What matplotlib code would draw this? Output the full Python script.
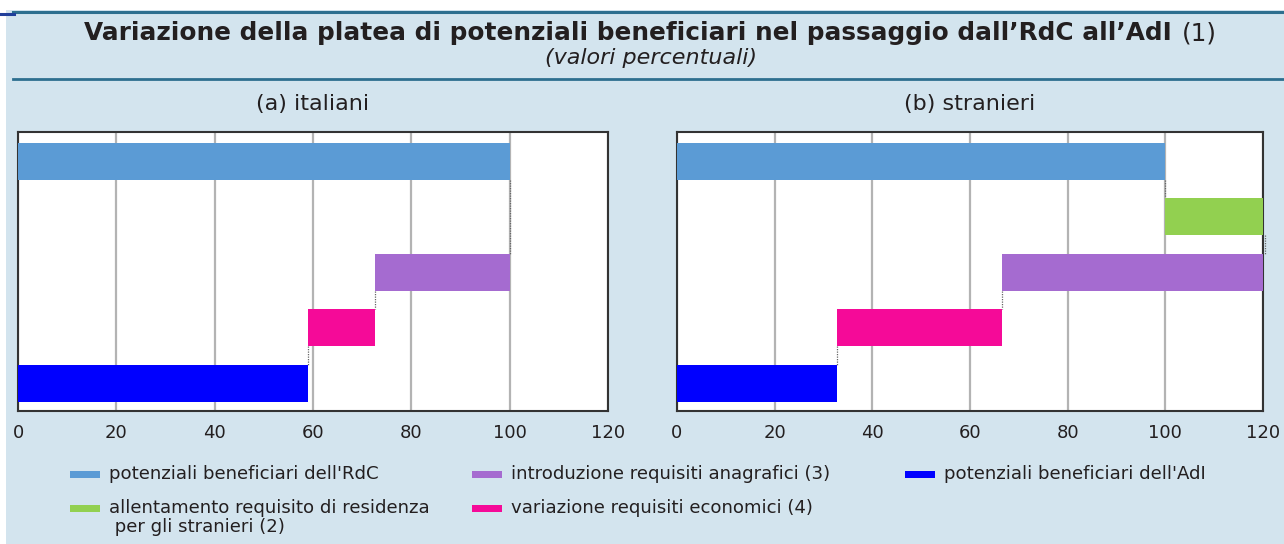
import matplotlib
matplotlib.use("Agg")
import matplotlib.pyplot as plt
from matplotlib.patches import Rectangle
from matplotlib.lines import Line2D

plt.rcParams['font.family'] = ['DejaVu Sans']

# ---- data ----
steps = ["potenziali beneficiari dell'RdC",
         "allentamento requisito di residenza\n per gli stranieri (2)",
         "introduzione requisiti anagrafici (3)",
         "variazione requisiti economici (4)",
         "potenziali beneficiari dell'AdI"]
colors = ["#5b9bd5", "#92d050", "#a56bd0", "#f50a98", "#0000ff"]
italiani = [100, 0.0, -27.3, -13.7]      # start total, then changes
stranieri = [100, 20.5, -54.0, -33.8]
panel_titles = ["(a) italiani", "(b) stranieri"]
xticks = [0, 20, 40, 60, 80, 100, 120]

W, H = 1284, 544
fig = plt.figure(figsize=(W / 100, H / 100), dpi=100)
fig.patch.set_facecolor("white")
BG = "#d3e4ee"
TEXT = "#231f20"


def fx(px):
    return px / W


def fy(py):
    return 1 - py / H


# background panel
fig.patches.append(Rectangle((fx(6), 0), 1, fy(10), transform=fig.transFigure,
                             facecolor=BG, edgecolor="none", zorder=-10))
fig.add_artist(Line2D([fx(13), 1], [fy(12), fy(12)], color="#2d6f8f", lw=2.2, zorder=-5))
fig.add_artist(Line2D([0, fx(14)], [fy(14), fy(14)], color="#1f3e9a", lw=2.2, zorder=-5))
fig.add_artist(Line2D([fx(13), 1], [fy(79), fy(79)], color="#2d6f8f", lw=2.0, zorder=-5))

# title: bold part + regular "(1)"
t1 = fig.text(0, fy(33), "Variazione della platea di potenziali beneficiari nel passaggio dall\u2019RdC all\u2019AdI",
              ha="left", va="center", fontsize=17.8, fontweight="bold", color=TEXT)
t2 = fig.text(0, fy(33), "(1)", ha="left", va="center", fontsize=17.8, color=TEXT)
fig.canvas.draw()
r = fig.canvas.get_renderer()
w1 = t1.get_window_extent(r).width
w2 = t2.get_window_extent(r).width
gap = 10
start = 650 - (w1 + gap + w2) / 2
t1.set_x(fx(start))
t2.set_x(fx(start + w1 + gap))

fig.text(fx(651), fy(58), "(valori percentuali)", ha="center", va="center",
         fontsize=16, style="italic", color=TEXT)


def draw_panel(rect_px, vals, title):
    x0, y0, x1, y1 = rect_px
    ax = fig.add_axes([fx(x0), fy(y1), fx(x1 - x0), (y1 - y0) / H])
    ax.set_facecolor("white")
    n = len(steps)
    lefts, widths = [], []
    cum = 0
    for i, v in enumerate(vals):
        if i == 0:
            lefts.append(0)
            widths.append(v)
            cum = v
        else:
            lefts.append(cum)
            widths.append(v)
            cum += v
    lefts.append(0)
    widths.append(cum)
    ypos = list(range(n))
    ax.barh(ypos, widths, left=lefts, height=0.67, color=colors,
            linewidth=0, zorder=3)
    # connectors between consecutive non-empty bars
    ends = [l + w for l, w in zip(lefts, widths)]
    i = 0
    while i < n - 1:
        j = i + 1
        while j < n - 1 and widths[j] == 0:
            j += 1
        xc = ends[i]
        ax.plot([xc, xc], [i + 0.335, j - 0.335], color="#666666", lw=0.9,
                ls=(0, (1, 1)), zorder=2, clip_on=False)
        i = j
    ax.set_xlim(0, 120)
    ax.set_ylim(4.5, -0.53)
    ax.set_yticks([])
    ax.set_xticks(xticks)
    ax.tick_params(axis="x", length=0, pad=9, labelsize=13, labelcolor=TEXT)
    ax.grid(axis="x", color="#b3b3b3", lw=1.6, zorder=1)
    for s in ax.spines.values():
        s.set_color("#333333")
        s.set_linewidth(1.5)
    fig.text(fx((x0 + x1) / 2), fy(104), title, ha="center", va="center",
             fontsize=16, color=TEXT)
    return ax


draw_panel((18, 132, 608, 411), italiani, panel_titles[0])
draw_panel((677, 132, 1263, 411), stranieri, panel_titles[1])

# legend (manual)
leg_pos = [(70, 474), (70, 508), (472, 474), (472, 508), (905, 474)]
for (px, py), lab, col in zip(leg_pos, steps, colors):
    fig.patches.append(Rectangle((fx(px), fy(py + 3.5)), fx(30), 7 / H,
                                 transform=fig.transFigure, facecolor=col,
                                 edgecolor="none"))
    fig.text(fx(px + 39), fy(py - 9), lab, ha="left", va="top",
             fontsize=13.1, color=TEXT, linespacing=1.1)

fig.savefig("out.png", dpi=100, facecolor=fig.get_facecolor())
